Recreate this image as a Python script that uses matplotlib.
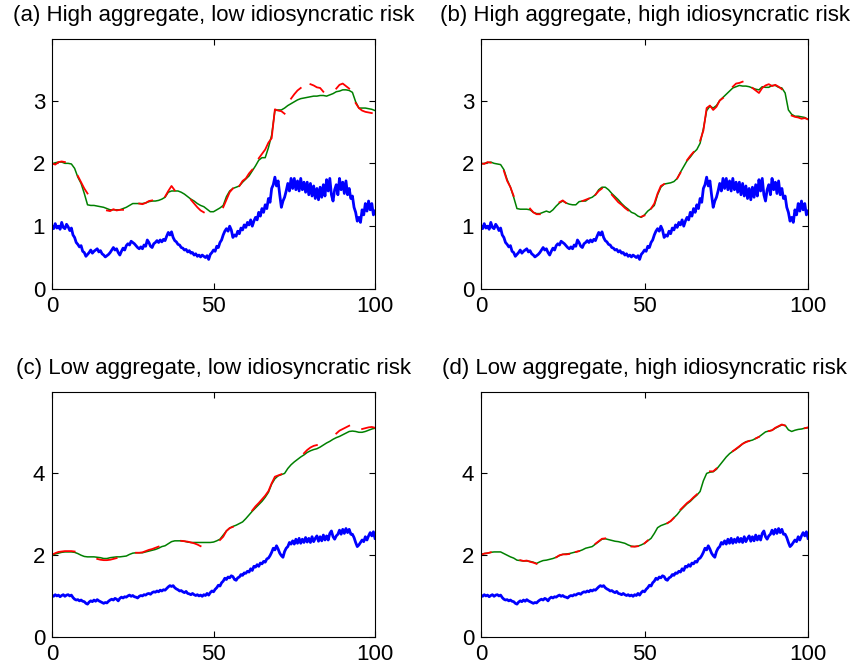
import numpy as np
import matplotlib
matplotlib.use("Agg")
import matplotlib.pyplot as plt

plt.rcParams['font.family'] = ['Liberation Sans', 'DejaVu Sans']

nan = np.nan

# time grids: fine one for the noisy path, unit one for the smooth curves
t_fine = np.arange(0, 100.5, 0.5)
t = np.arange(0, 101)

titles = ["(a) High aggregate, low idiosyncratic risk",
          "(b) High aggregate, high idiosyncratic risk",
          "(c) Low aggregate, low idiosyncratic risk",
          "(d) Low aggregate, high idiosyncratic risk"]

# noisy path, high aggregate risk (panels a, b), step 0.5
blue_high = [
    1.00, 0.96, 1.04, 0.97, 1.00, 0.95, 1.06, 0.98, 0.96, 1.03,
    0.99, 0.93, 0.97, 0.86, 0.82, 0.74, 0.71, 0.67, 0.69, 0.60,
    0.58, 0.52, 0.55, 0.58, 0.62, 0.57, 0.60, 0.62, 0.64, 0.59,
    0.61, 0.56, 0.54, 0.51, 0.53, 0.55, 0.58, 0.62, 0.66, 0.62,
    0.64, 0.58, 0.54, 0.60, 0.65, 0.62, 0.69, 0.72, 0.70, 0.76,
    0.74, 0.72, 0.69, 0.66, 0.64, 0.67, 0.64, 0.70, 0.68, 0.78,
    0.74, 0.68, 0.66, 0.72, 0.74, 0.77, 0.74, 0.78, 0.75, 0.79,
    0.77, 0.84, 0.90, 0.86, 0.91, 0.82, 0.77, 0.75, 0.71, 0.70,
    0.66, 0.65, 0.62, 0.63, 0.59, 0.61, 0.57, 0.58, 0.54, 0.56,
    0.52, 0.54, 0.51, 0.54, 0.52, 0.50, 0.53, 0.47, 0.55, 0.58,
    0.62, 0.60, 0.68, 0.66, 0.74, 0.78, 0.86, 0.92, 0.96, 0.92,
    1.00, 0.94, 0.82, 0.86, 0.84, 0.92, 0.88, 0.97, 0.94, 1.02,
    0.98, 1.06, 1.02, 1.10, 1.00, 1.08, 1.14, 1.10, 1.22, 1.16,
    1.28, 1.22, 1.34, 1.28, 1.44, 1.38, 1.60, 1.66, 1.78, 1.64,
    1.72, 1.50, 1.30, 1.40, 1.46, 1.56, 1.68, 1.56, 1.76, 1.60,
    1.76, 1.58, 1.72, 1.56, 1.76, 1.58, 1.70, 1.54, 1.70, 1.50,
    1.68, 1.48, 1.64, 1.44, 1.60, 1.42, 1.62, 1.46, 1.66, 1.48,
    1.74, 1.56, 1.76, 1.50, 1.40, 1.58, 1.66, 1.50, 1.76, 1.58,
    1.70, 1.52, 1.72, 1.50, 1.60, 1.44, 1.48, 1.30, 1.22, 1.08,
    1.14, 1.06, 1.26, 1.18, 1.36, 1.24, 1.40, 1.26, 1.36, 1.18,
    1.24]

# noisy path, low aggregate risk (panels c, d), step 0.5
blue_low = [
    1.02, 0.99, 1.03, 1.00, 1.02, 0.98, 1.01, 1.03, 0.99, 1.02,
    1.03, 1.00, 1.02, 0.96, 0.92, 0.90, 0.91, 0.88, 0.90, 0.87,
    0.86, 0.82, 0.80, 0.85, 0.88, 0.86, 0.90, 0.87, 0.91, 0.88,
    0.86, 0.84, 0.82, 0.84, 0.83, 0.87, 0.90, 0.92, 0.90, 0.94,
    0.92, 0.88, 0.94, 0.97, 0.95, 0.98, 0.97, 1.00, 1.02, 0.99,
    1.01, 0.98, 0.97, 0.95, 0.99, 1.01, 1.00, 1.03, 1.02, 1.05,
    1.06, 1.04, 1.08, 1.10, 1.09, 1.12, 1.10, 1.14, 1.12, 1.15,
    1.14, 1.18, 1.22, 1.25, 1.23, 1.25, 1.20, 1.17, 1.15, 1.12,
    1.13, 1.10, 1.08, 1.11, 1.06, 1.05, 1.03, 1.06, 1.03, 1.01,
    1.03, 1.00, 1.02, 0.99, 1.03, 1.01, 1.06, 1.02, 1.08, 1.12,
    1.10, 1.16, 1.20, 1.26, 1.24, 1.32, 1.36, 1.43, 1.40, 1.46,
    1.44, 1.49, 1.47, 1.40, 1.38, 1.44, 1.46, 1.52, 1.50, 1.56,
    1.55, 1.60, 1.58, 1.66, 1.62, 1.72, 1.70, 1.76, 1.72, 1.80,
    1.78, 1.84, 1.82, 1.90, 1.92, 1.98, 2.06, 2.16, 2.12, 2.22,
    2.14, 2.04, 1.98, 1.94, 2.08, 2.16, 2.20, 2.30, 2.26, 2.34,
    2.26, 2.38, 2.28, 2.40, 2.28, 2.38, 2.30, 2.42, 2.31, 2.40,
    2.30, 2.44, 2.32, 2.40, 2.46, 2.33, 2.44, 2.34, 2.48, 2.36,
    2.46, 2.36, 2.52, 2.58, 2.44, 2.38, 2.46, 2.50, 2.60, 2.50,
    2.62, 2.52, 2.64, 2.54, 2.62, 2.50, 2.50, 2.42, 2.30, 2.20,
    2.24, 2.30, 2.36, 2.32, 2.44, 2.36, 2.46, 2.54, 2.46, 2.56,
    2.40]

# smooth curves, one value per unit of time
green_a = [
    1.99, 2.01, 2.02, 2.02, 2.00, 2.00, 1.99, 1.92, 1.78, 1.68,
    1.52, 1.34, 1.33, 1.33, 1.32, 1.31, 1.30, 1.28, 1.26, 1.26,
    1.26, 1.26, 1.28, 1.30, 1.33, 1.36, 1.36, 1.36, 1.36, 1.37,
    1.39, 1.40, 1.40, 1.41, 1.43, 1.46, 1.54, 1.56, 1.56, 1.56,
    1.54, 1.51, 1.47, 1.43, 1.40, 1.36, 1.33, 1.31, 1.27, 1.23,
    1.23, 1.26, 1.29, 1.33, 1.47, 1.56, 1.60, 1.62, 1.64, 1.70,
    1.75, 1.80, 1.88, 1.96, 2.05, 2.09, 2.09, 2.25, 2.45, 2.84,
    2.85, 2.85, 2.88, 2.92, 2.95, 2.98, 3.01, 3.03, 3.04, 3.05,
    3.06, 3.07, 3.07, 3.08, 3.08, 3.07, 3.09, 3.11, 3.14, 3.15,
    3.17, 3.17, 3.16, 3.13, 2.98, 2.88, 2.88, 2.88, 2.87, 2.86,
    2.84]

green_b = [
    1.99, 2.00, 2.01, 2.02, 2.00, 1.99, 1.98, 1.90, 1.74, 1.62,
    1.46, 1.28, 1.27, 1.27, 1.27, 1.26, 1.22, 1.20, 1.20, 1.22,
    1.24, 1.22, 1.26, 1.32, 1.37, 1.40, 1.37, 1.35, 1.34, 1.34,
    1.39, 1.40, 1.40, 1.44, 1.46, 1.50, 1.58, 1.62, 1.62, 1.58,
    1.52, 1.47, 1.42, 1.36, 1.31, 1.27, 1.22, 1.20, 1.16, 1.14,
    1.18, 1.24, 1.28, 1.33, 1.50, 1.62, 1.67, 1.68, 1.69, 1.71,
    1.76, 1.86, 1.95, 2.04, 2.10, 2.17, 2.22, 2.32, 2.55, 2.84,
    2.91, 2.88, 2.92, 3.00, 3.05, 3.10, 3.15, 3.20, 3.22, 3.24,
    3.23, 3.23, 3.22, 3.20, 3.18, 3.17, 3.22, 3.21, 3.21, 3.24,
    3.24, 3.21, 3.20, 3.12, 2.85, 2.78, 2.75, 2.75, 2.74, 2.73,
    2.70]

green_c = [
    1.99, 2.02, 2.04, 2.06, 2.07, 2.07, 2.07, 2.06, 2.03, 1.99,
    1.96, 1.95, 1.95, 1.95, 1.94, 1.93, 1.91, 1.91, 1.93, 1.94,
    1.95, 1.95, 1.96, 1.97, 2.01, 2.04, 2.05, 2.05, 2.05, 2.07,
    2.09, 2.11, 2.13, 2.16, 2.20, 2.22, 2.27, 2.32, 2.34, 2.34,
    2.34, 2.33, 2.31, 2.30, 2.30, 2.30, 2.30, 2.30, 2.30, 2.30,
    2.31, 2.34, 2.38, 2.48, 2.58, 2.65, 2.69, 2.72, 2.76, 2.80,
    2.88, 2.97, 3.06, 3.14, 3.22, 3.30, 3.40, 3.52, 3.72, 3.85,
    3.92, 3.95, 3.98, 4.10, 4.19, 4.26, 4.32, 4.38, 4.43, 4.49,
    4.53, 4.56, 4.58, 4.62, 4.67, 4.72, 4.76, 4.81, 4.85, 4.88,
    4.92, 4.96, 5.00, 5.01, 5.00, 4.98, 4.98, 5.00, 5.03, 5.06,
    5.08]

green_d = [
    2.01, 2.03, 2.04, 2.06, 2.07, 2.07, 2.07, 2.03, 1.99, 1.95,
    1.92, 1.87, 1.86, 1.85, 1.85, 1.84, 1.82, 1.79, 1.83, 1.86,
    1.87, 1.89, 1.91, 1.94, 1.98, 2.01, 2.02, 2.03, 2.05, 2.07,
    2.09, 2.12, 2.16, 2.18, 2.20, 2.26, 2.32, 2.38, 2.39, 2.37,
    2.35, 2.33, 2.32, 2.30, 2.28, 2.24, 2.21, 2.20, 2.21, 2.24,
    2.28, 2.34, 2.40, 2.52, 2.66, 2.71, 2.74, 2.77, 2.82, 2.90,
    2.98, 3.08, 3.16, 3.24, 3.30, 3.38, 3.45, 3.54, 3.80, 3.98,
    4.01, 4.02, 4.08, 4.18, 4.28, 4.38, 4.46, 4.52, 4.57, 4.63,
    4.70, 4.75, 4.77, 4.79, 4.83, 4.87, 4.93, 4.99, 5.01, 5.03,
    5.08, 5.12, 5.16, 5.15, 5.04, 5.00, 5.03, 5.05, 5.06, 5.08,
    5.09]

# dashed red curve: (start time, values) for each visible piece
red_a = [(0, [2.00, 1.98, 2.02, 2.03, 2.02]),
         (8, [1.80, 1.70, 1.60, 1.52]),
         (17, [1.25, 1.24, 1.27, 1.25, 1.26, 1.26]),
         (27, [1.36, 1.35, 1.37, 1.40, 1.41]),
         (35, [1.47, 1.56, 1.64, 1.57]),
         (43, [1.42, 1.36, 1.30, 1.25, 1.22]),
         (53, [1.30, 1.42, 1.54, 1.60]),
         (58, [1.64, 1.72, 1.76, 1.84, 1.90]),
         (64, [2.08, 2.15, 2.22, 2.33, 2.40]),
         (69, [2.86, 2.84, 2.83, 2.79]),
         (74, [3.03, 3.10, 3.16, 3.20]),
         (80, [3.26, 3.24, 3.21, 3.20, 3.14]),
         (88, [3.19, 3.25, 3.27, 3.23, 3.19]),
         (94, [2.96, 2.88, 2.84, 2.82, 2.81, 2.80])]

red_b = [(0, [2.00, 1.99, 2.02, 2.01]),
         (7, [1.88, 1.72, 1.62, 1.48]),
         (15, [1.28, 1.22, 1.19, 1.19]),
         (24, [1.38, 1.41, 1.37]),
         (31, [1.40, 1.42, 1.44]),
         (35, [1.50, 1.56, 1.60]),
         (40, [1.50, 1.44, 1.38, 1.34, 1.29, 1.25]),
         (49, [1.15, 1.17]),
         (52, [1.28, 1.36, 1.52, 1.64, 1.67]),
         (60, [1.76, 1.85]),
         (63, [2.05, 2.12, 2.18]),
         (67, [2.36, 2.52, 2.88, 2.92, 2.85, 2.90]),
         (73, [3.00, 3.04]),
         (77, [3.22, 3.27, 3.28, 3.30]),
         (83, [3.20, 3.16, 3.12, 3.20, 3.24, 3.26, 3.23, 3.25, 3.22, 3.18]),
         (95, [2.76, 2.74, 2.73, 2.71, 2.72, 2.70])]

red_c = [(0, [2.00, 2.04, 2.07, 2.08, 2.09, 2.09, 2.09, 2.08]),
         (14, [1.90, 1.88, 1.87, 1.87, 1.88, 1.90, 1.92]),
         (26, [2.05, 2.05, 2.06]),
         (29, [2.09, 2.12, 2.14, 2.17, 2.20]),
         (40, [2.34, 2.33, 2.32, 2.30, 2.28, 2.25, 2.21]),
         (52, [2.36, 2.44, 2.58, 2.65, 2.68]),
         (62, [3.08, 3.18, 3.26, 3.35, 3.44]),
         (67, [3.55, 3.74, 3.90, 3.93, 3.96]),
         (78, [4.47, 4.55, 4.61, 4.65, 4.67]),
         (88, [4.95, 5.02, 5.06, 5.10, 5.14]),
         (96, [5.06, 5.08, 5.10, 5.11, 5.09])]

red_d = [(0, [2.00, 2.03, 2.04, 2.06]),
         (12, [1.87, 1.85, 1.86, 1.83]),
         (16, [1.81, 1.78]),
         (23, [1.94, 1.99, 2.01, 2.01, 2.02]),
         (29, [2.07, 2.09]),
         (35, [2.27, 2.33, 2.39, 2.40]),
         (46, [2.20, 2.20, 2.21]),
         (50, [2.28, 2.35]),
         (57, [2.77, 2.82, 2.90]),
         (61, [3.10, 3.18, 3.26, 3.32, 3.40, 3.47]),
         (70, [4.03, 4.03, 4.10]),
         (77, [4.52, 4.58, 4.64, 4.70]),
         (81, [4.74, 4.77]),
         (84, [4.83, 4.87]),
         (88, [5.01, 5.03]),
         (90, [5.09, 5.13, 5.17, 5.14]),
         (99, [5.08, 5.10])]


def pieces(segs):
    arr = np.full(len(t), nan)
    for start, vals in segs:
        arr[start:start + len(vals)] = vals
    return arr


panels = [
    (titles[0], blue_high, green_a, red_a, 3.98, [0, 1, 2, 3]),
    (titles[1], blue_high, green_b, red_b, 3.98, [0, 1, 2, 3]),
    (titles[2], blue_low, green_c, red_c, 5.96, [0, 2, 4]),
    (titles[3], blue_low, green_d, red_d, 5.96, [0, 2, 4]),
]

# axes boxes in figure fractions [left, bottom, width, height]
boxes = [[0.0611, 0.5661, 0.3796, 0.3754],
         [0.5652, 0.5661, 0.3843, 0.3754],
         [0.0611, 0.0435, 0.3796, 0.3679],
         [0.5652, 0.0435, 0.3843, 0.3679]]

fig = plt.figure(figsize=(8.51, 6.66), dpi=100)

for box, (title, blue, green, red, ytop, yt) in zip(boxes, panels):
    ax = fig.add_axes(box)
    ax.plot(t_fine, blue, color=(0, 0, 1), lw=2.0)
    ax.plot(t, green, color=(0, 0.5, 0), lw=1.1)
    ax.plot(t, pieces(red), color=(1, 0, 0), lw=1.3)
    ax.set_xlim(0, 100)
    ax.set_ylim(0, ytop)
    ax.set_xticks([0, 50, 100])
    ax.set_yticks(yt)
    ax.tick_params(direction='in', top=True, right=True, length=4,
                   width=0.8, labelsize=16, pad=5)
    for s in ax.spines.values():
        s.set_linewidth(0.8)
    ax.set_title(title, fontsize=16, pad=13)

fig.savefig("out.png", dpi=100)
